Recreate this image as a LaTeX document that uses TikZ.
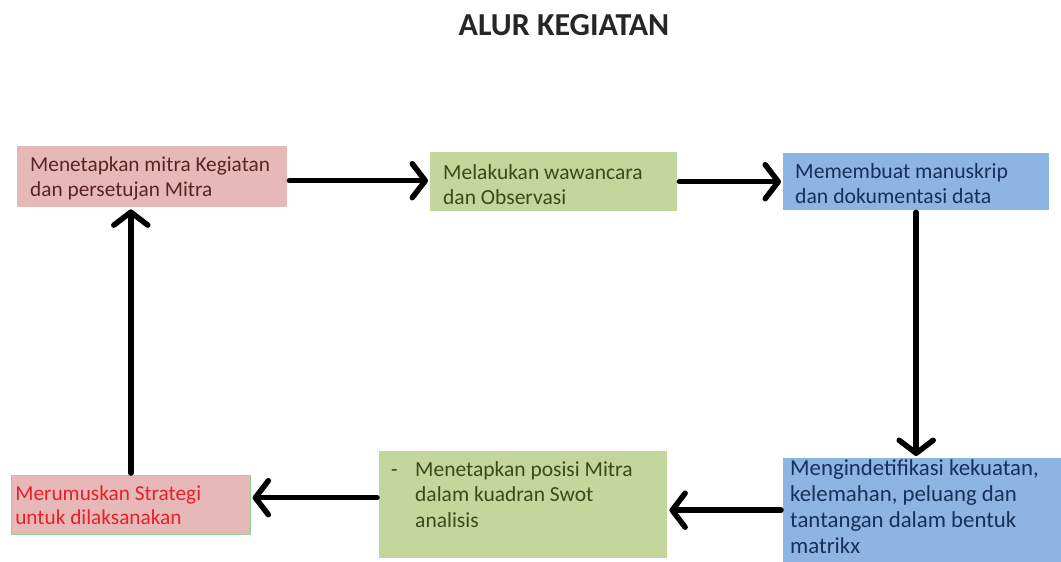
\documentclass[tikz,border=0pt]{standalone}
\usepackage{fontspec}
\setmainfont{Carlito}
\usetikzlibrary{arrows.meta,calc}
\definecolor{pinkbox}{HTML}{E6B9B8}
\definecolor{greenbox}{HTML}{C3D69B}
\definecolor{bluebox}{HTML}{8EB4E3}
\definecolor{pinktext}{HTML}{5A2424}
\definecolor{greentext}{HTML}{3A4A1C}
\definecolor{bluetext}{HTML}{17305A}
\definecolor{redtext}{HTML}{E8202A}
\newcommand{\boxtext}[4]{\parbox[c][#2pt][t]{#1pt}{\vspace*{#3pt}\raggedright #4}}
\tikzset{
  stepbox/.style={anchor=north west, inner xsep=0pt, inner ysep=0pt, draw=none},
  flow/.style={line width=5.5pt, line cap=round,
     -{Straight Barb[length=13pt,width=34pt,round]}, shorten >=2pt, shorten <=2pt}
}
\begin{document}
\begin{tikzpicture}[x=1pt,y=-1pt]
\useasboundingbox (0,0) rectangle (1061,562);
\fill[white] (0,0) rectangle (1061,562);
\node[font=\fontsize{32}{36}\selectfont\bfseries, text=black!85] (title) at (564,25) {ALUR KEGIATAN};
\node[stepbox, fill=pinkbox, text=pinktext, font=\fontsize{21.3}{25}\selectfont] (b1) at (17,146)
  {\hspace*{13pt}\boxtext{255}{61}{11}{Menetapkan mitra Kegiatan\\dan persetujan Mitra}\hspace*{2pt}};
\node[stepbox, fill=greenbox, text=greentext, font=\fontsize{21.5}{25}\selectfont] (b2) at (430,152)
  {\hspace*{13pt}\boxtext{232}{59}{12}{Melakukan wawancara\\dan Observasi}\hspace*{2pt}};
\node[stepbox, fill=bluebox, text=bluetext, font=\fontsize{21.7}{25}\selectfont] (b3) at (783,153)
  {\hspace*{12pt}\boxtext{252}{57}{10}{Memembuat manuskrip\\dan dokumentasi data}\hspace*{2pt}};
\node[stepbox, fill=bluebox, text=bluetext, font=\fontsize{22.8}{26}\selectfont] (b6) at (783,458)
  {\hspace*{7pt}\boxtext{271}{104}{1}{Mengindetifikasi kekuatan,\\kelemahan, peluang dan\\tantangan dalam bentuk\\matrikx}};
\node[stepbox, fill=greenbox, text=greentext, font=\fontsize{21.5}{25.5}\selectfont] (b5) at (379,451)
  {\hspace*{12pt}\boxtext{274}{107}{10}{\makebox[24pt][l]{-}\parbox[t]{245pt}{\raggedright Menetapkan posisi Mitra\\dalam kuadran Swot\\analisis}}\hspace*{2pt}};
\node[stepbox, fill=pinkbox, text=redtext, draw=gray!60!green!60, line width=0.6pt, font=\fontsize{21.3}{24.5}\selectfont] (b4) at (11,475)
  {\hspace*{4pt}\boxtext{233}{59}{10}{Merumuskan Strategi\\untuk dilaksanakan}\hspace*{2pt}};
\coordinate (a1s) at ($(b1.east)+(0,4)$);
\coordinate (a5s) at ($(b5.west)+(0,-7)$);
\draw[flow] (a1s) -- (a1s -| b2.west);
\draw[flow] (b2.east) -- (b3.west);
\draw[flow] (b3.south) -- (b3.south |- b6.north);
\draw[flow] (b6.west) -- (b6.west -| b5.east);
\draw[flow] (a5s) -- (a5s -| b4.east);
\draw[flow] (b4.north) -- (b4.north |- b1.south);
\end{tikzpicture}
\end{document}
